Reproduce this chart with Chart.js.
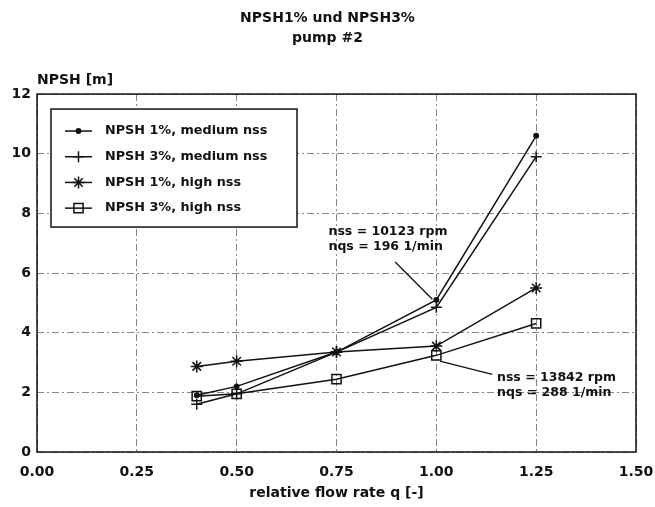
<!DOCTYPE html>
<html>
<head>
<meta charset="utf-8">
<script src="https://cdn.jsdelivr.net/npm/chart.js@4.4.0/dist/chart.umd.min.js"></script>
<style>
  html, body { margin: 0; padding: 0; background: #fff; }
  #wrap { width: 655px; height: 507px; position: relative; }
</style>
</head>
<body>
<div id="wrap"><canvas id="npshChart"></canvas></div>
<script>
// relative flow rate q [-]
const flowRate = [0.4, 0.5, 0.75, 1.0, 1.25];
// NPSH [m] per series
const npsh1Medium = [1.9, 2.2, 3.35, 5.1, 10.6];
const npsh3Medium = [1.6, 1.95, 3.35, 4.85, 9.9];
const npsh1High = [2.87, 3.04, 3.35, 3.55, 5.5];
const npsh3High = [1.87, 1.95, 2.44, 3.24, 4.31];

const seriesLabels = ['NPSH 1%, medium nss', 'NPSH 3%, medium nss', 'NPSH 1%, high nss', 'NPSH 3%, high nss'];
const xTickValues = [0, 0.25, 0.5, 0.75, 1.0, 1.25, 1.5];
const yTickValues = [0, 2, 4, 6, 8, 10, 12];

// speed notes, placed in axis units (q, NPSH)
const notes = [
  { lines: ['nss = 10123 rpm', 'nqs = 196 1/min'], at: [0.73, 7.37], from: [0.897, 6.37], to: [0.99, 5.12] },
  { lines: ['nss = 13842 rpm', 'nqs = 288 1/min'], at: [1.152, 2.48], from: [1.009, 3.05], to: [1.14, 2.6] }
];

const FONT = 'DejaVu Sans';
const INK = '#111';

function toPoints(values) {
  return values.map((v, i) => ({ x: flowRate[i], y: v }));
}

function makeSet(label, values, style, radius, fill) {
  return {
    label: label,
    data: toPoints(values),
    borderColor: INK,
    borderWidth: 1.5,
    pointStyle: style,
    pointRadius: radius,
    pointHoverRadius: radius,
    pointBorderColor: INK,
    pointBorderWidth: 1.5,
    pointBackgroundColor: fill,
    showLine: true,
    fill: false,
    tension: 0
  };
}

// box around plot area + y axis name
const frame = {
  id: 'frame',
  afterDraw(chart) {
    const { ctx, chartArea: a } = chart;
    ctx.save();
    ctx.strokeStyle = INK;
    ctx.lineWidth = 1.5;
    ctx.strokeRect(a.left, a.top, a.right - a.left, a.bottom - a.top);
    ctx.fillStyle = INK;
    ctx.font = 'bold 14px "' + FONT + '"';
    ctx.textAlign = 'left';
    ctx.textBaseline = 'middle';
    ctx.fillText('NPSH [m]', a.left, a.top - 14);
    ctx.restore();
  }
};

// legend box inside the plot, top left
const boxLegend = {
  id: 'boxLegend',
  afterDatasetsDraw(chart) {
    const { ctx, chartArea: a } = chart;
    const left = a.left + 14, top = a.top + 15, w = 246, h = 118;
    ctx.save();
    ctx.fillStyle = '#fff';
    ctx.fillRect(left, top, w, h);
    ctx.strokeStyle = INK;
    ctx.lineWidth = 1.5;
    ctx.strokeRect(left, top, w, h);
    ctx.font = 'bold 12.8px "' + FONT + '"';
    ctx.textBaseline = 'middle';
    chart.data.datasets.forEach((ds, i) => {
      const y = top + 22 + i * 25.7;
      ctx.strokeStyle = INK;
      ctx.lineWidth = 1.5;
      ctx.beginPath();
      ctx.moveTo(left + 14, y);
      ctx.lineTo(left + 41, y);
      ctx.stroke();
      ctx.fillStyle = ds.pointBackgroundColor;
      Chart.helpers.drawPoint(ctx, {
        pointStyle: ds.pointStyle,
        radius: ds.pointRadius,
        rotation: 0,
        borderWidth: 1.5
      }, left + 27.5, y);
      ctx.fillStyle = INK;
      ctx.fillText(ds.label, left + 54, y);
    });
    ctx.restore();
  }
};

// the two nss / nqs notes with leader lines
const speedNotes = {
  id: 'speedNotes',
  afterDatasetsDraw(chart) {
    const { ctx, scales: { x, y } } = chart;
    ctx.save();
    ctx.strokeStyle = INK;
    ctx.lineWidth = 1.3;
    ctx.fillStyle = INK;
    ctx.font = 'bold 12.5px "' + FONT + '"';
    ctx.textBaseline = 'middle';
    notes.forEach(n => {
      ctx.beginPath();
      ctx.moveTo(x.getPixelForValue(n.from[0]), y.getPixelForValue(n.from[1]));
      ctx.lineTo(x.getPixelForValue(n.to[0]), y.getPixelForValue(n.to[1]));
      ctx.stroke();
      n.lines.forEach((t, i) => {
        ctx.fillText(t, x.getPixelForValue(n.at[0]), y.getPixelForValue(n.at[1]) + i * 15);
      });
    });
    ctx.restore();
  }
};

const ctx = document.getElementById('npshChart').getContext('2d');
const chart = new Chart(ctx, {
  type: 'scatter',
  data: {
    datasets: [
      makeSet(seriesLabels[0], npsh1Medium, 'circle', 2.2, INK),
      makeSet(seriesLabels[1], npsh3Medium, 'cross', 5.5, 'rgba(0,0,0,0)'),
      makeSet(seriesLabels[2], npsh1High, 'star', 6, 'rgba(0,0,0,0)'),
      makeSet(seriesLabels[3], npsh3High, 'rect', 6.5, 'rgba(0,0,0,0)')
    ]
  },
  options: {
    responsive: true,
    maintainAspectRatio: false,
    animation: false,
    layout: { padding: { left: 0, right: 0, top: 0, bottom: 0 } },
    plugins: {
      legend: { display: false },
      tooltip: { enabled: false },
      title: {
        display: true,
        text: ['NPSH1% und NPSH3%', 'pump #2'],
        color: INK,
        font: { family: FONT, size: 14, weight: 'bold', lineHeight: 1.43 },
        padding: { top: 8, bottom: 46 }
      }
    },
    scales: {
      x: {
        type: 'linear',
        min: xTickValues[0],
        max: xTickValues[xTickValues.length - 1],
        afterBuildTicks: scale => { scale.ticks = xTickValues.map(v => ({ value: v })); },
        afterFit: scale => {
          scale.height = 55;
          scale.paddingLeft = 0;
          scale.paddingRight = 19;
        },
        grid: {
          color: '#666',
          lineWidth: 0.8,
          drawTicks: false
        },
        border: { display: false, dash: [7, 3, 2, 3] },
        ticks: {
          autoSkip: false,
          maxRotation: 0,
          padding: 12,
          color: INK,
          font: { family: FONT, size: 14, weight: 'bold' },
          callback: v => Number(v).toFixed(2)
        },
        title: {
          display: true,
          text: 'relative flow rate q [-]',
          color: INK,
          font: { family: FONT, size: 14, weight: 'bold' },
          padding: { top: 0, bottom: 5 }
        }
      },
      y: {
        min: yTickValues[0],
        max: yTickValues[yTickValues.length - 1],
        afterBuildTicks: scale => { scale.ticks = yTickValues.map(v => ({ value: v })); },
        afterFit: scale => { scale.width = 37; },
        grid: {
          color: '#666',
          lineWidth: 0.8,
          drawTicks: false
        },
        border: { display: false, dash: [7, 3, 2, 3] },
        ticks: {
          padding: 6,
          color: INK,
          font: { family: FONT, size: 14, weight: 'bold' }
        }
      }
    }
  },
  plugins: [boxLegend, speedNotes, frame]
});
</script>
</body>
</html>
